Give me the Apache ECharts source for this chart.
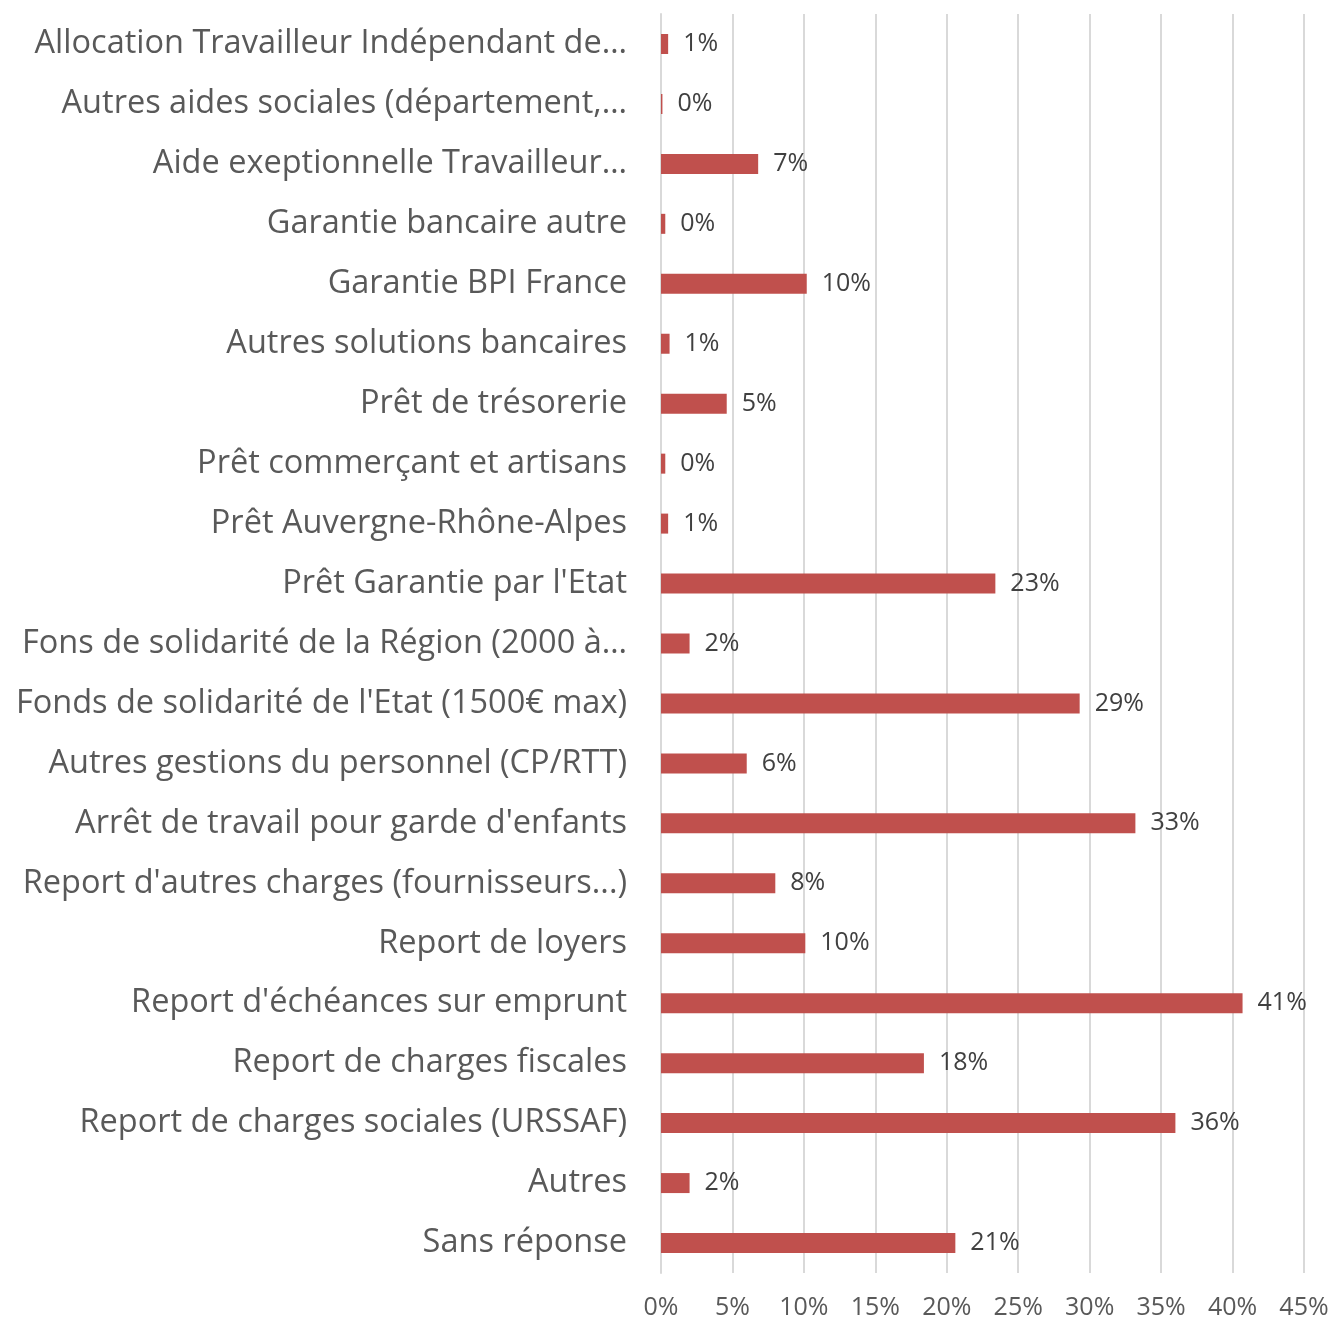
<!DOCTYPE html>
<html><head><meta charset="utf-8">
<script src="https://cdn.jsdelivr.net/npm/echarts@6/dist/echarts.min.js"></script>
<style>html,body{margin:0;padding:0;background:#fff}#c{width:1331px;height:1320px}</style>
</head><body><div id="c"></div>
<script>
const categories = [
  "Allocation Travailleur Indépendant de…",
  "Autres aides sociales (département,…",
  "Aide exeptionnelle Travailleur…",
  "Garantie bancaire autre",
  "Garantie BPI France",
  "Autres solutions bancaires",
  "Prêt de trésorerie",
  "Prêt commerçant et artisans",
  "Prêt Auvergne-Rhône-Alpes",
  "Prêt Garantie par l'Etat",
  "Fons de solidarité de la Région (2000 à…",
  "Fonds de solidarité de l'Etat (1500€ max)",
  "Autres gestions du personnel (CP/RTT)",
  "Arrêt de travail pour garde d'enfants",
  "Report d'autres charges (fournisseurs...)",
  "Report de loyers",
  "Report d'échéances sur emprunt",
  "Report de charges fiscales",
  "Report de charges sociales (URSSAF)",
  "Autres",
  "Sans réponse"
];
const values = [0.5, 0.1, 6.8, 0.3, 10.2, 0.6, 4.6, 0.3, 0.5, 23.4, 2.0, 29.3, 6.0, 33.2, 8.0, 10.1, 40.7, 18.4, 36.0, 2.0, 20.6];
const xTicks = {min: 0, max: 45, interval: 5};

const chart = echarts.init(document.getElementById('c'));
chart.setOption({
  animation: false,
  grid: {left: 661, right: 27, top: 14, bottom: 47, containLabel: false, outerBoundsMode: 'none'},
  xAxis: {
    type: 'value', min: xTicks.min, max: xTicks.max, interval: xTicks.interval,
    axisLine: {show: false}, axisTick: {show: false},
    splitLine: {show: true, lineStyle: {color: '#d9d9d9', width: 2}},
    axisLabel: {formatter: v => v + '%', color: '#595959', fontSize: 25, fontFamily: 'Open Sans', margin: 22}
  },
  yAxis: {
    type: 'category', data: categories, inverse: true,
    axisLine: {show: true, lineStyle: {color: '#d9d9d9', width: 2}},
    axisTick: {show: false},
    axisLabel: {color: '#595959', fontSize: 32.5, fontFamily: 'Open Sans', margin: 34}
  },
  series: [{
    type: 'bar', data: values, barWidth: 20,
    itemStyle: {color: '#c0504d'},
    label: {show: true, position: 'right', distance: 15, color: '#404040', fontSize: 25, fontFamily: 'Open Sans',
      formatter: p => Math.round(p.value) + '%'}
  }]
});
</script></body></html>
